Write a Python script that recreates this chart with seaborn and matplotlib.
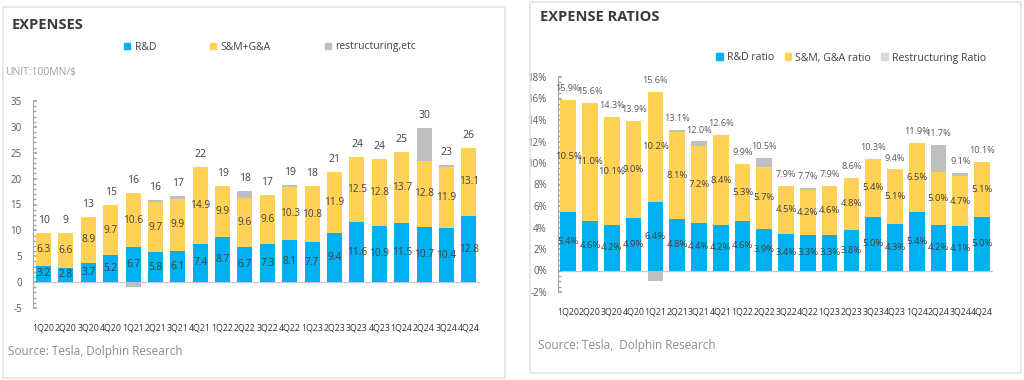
import matplotlib
matplotlib.use("Agg")
import matplotlib.pyplot as plt
import seaborn as sns
from matplotlib.patches import Rectangle, Patch
from matplotlib.ticker import MultipleLocator, FuncFormatter

sns.set_theme(style="white")
plt.rcParams['font.family'] = ['Open Sans', 'DejaVu Sans']

quarters = ["1Q20", "2Q20", "3Q20", "4Q20", "1Q21", "2Q21", "3Q21", "4Q21",
            "1Q22", "2Q22", "3Q22", "4Q22", "1Q23", "2Q23", "3Q23", "4Q23",
            "1Q24", "2Q24", "3Q24", "4Q24"]

# Expenses (100MN $)
rd = [3.2, 2.8, 3.7, 5.2, 6.7, 5.8, 6.1, 7.4, 8.7, 6.7, 7.3, 8.1, 7.7, 9.4, 11.6, 10.9, 11.5, 10.7, 10.4, 12.8]
sga = [6.3, 6.6, 8.9, 9.7, 10.6, 9.7, 9.9, 14.9, 9.9, 9.6, 9.6, 10.3, 10.8, 11.9, 12.5, 12.8, 13.7, 12.8, 11.9, 13.1]
restr = [0, 0, 0, 0, -1.0, 0.3, 0.6, 0, 0, 1.4, 0, 0.3, 0, 0, 0, 0, 0, 6.2, 0.4, 0]
totals = ["10", "9", "13", "15", "16", "16", "17", "22", "19", "18", "17", "19", "18", "21", "24", "24", "25", "30", "23", "26"]

# Expense ratios (%)
rd_ratio = [5.4, 4.6, 4.2, 4.9, 6.4, 4.8, 4.4, 4.2, 4.6, 3.9, 3.4, 3.3, 3.3, 3.8, 5.0, 4.3, 5.4, 4.2, 4.1, 5.0]
sga_ratio = [10.5, 11.0, 10.1, 9.0, 10.2, 8.1, 7.2, 8.4, 5.3, 5.7, 4.5, 4.2, 4.6, 4.8, 5.4, 5.1, 6.5, 5.0, 4.7, 5.1]
restr_ratio = [0, 0, 0, 0, -1.0, 0.2, 0.4, 0, 0, 0.9, 0, 0.2, 0, 0, 0, 0, 0, 2.5, 0.3, 0]
ratio_totals = ["15.9%", "15.6%", "14.3%", "13.9%", "15.6%", "13.1%", "12.0%", "12.6%", "9.9%", "10.5%",
                "7.9%", "7.7%", "7.9%", "8.6%", "10.3%", "9.4%", "11.9%", "11.7%", "9.1%", "10.1%"]

BLUE = "#00B0F0"
YELLOW = "#FFD256"
GRAY = "#BFBFBF"
TXT = "#404040"

W, H = 1024, 380
fig = plt.figure(figsize=(W / 100, H / 100), dpi=100)
fig.patch.set_facecolor("white")


def px_axes(x0, y0, x1, y1):
    return fig.add_axes([x0 / W, 1 - y1 / H, (x1 - x0) / W, (y1 - y0) / H])


def fx(x):
    return x / W


def fy(y):
    return 1 - y / H


# panel borders
fig.patches.append(Rectangle((fx(3), fy(378)), (505 - 3) / W, (378 - 7) / H, transform=fig.transFigure,
                             fill=False, edgecolor="#E3E3E3", lw=1.2))
fig.patches.append(Rectangle((fx(530), fy(373)), (1021 - 530) / W, (373 - 2) / H, transform=fig.transFigure,
                             fill=False, edgecolor="#E3E3E3", lw=1.2))


def stacked(ax, a, b, c, width, labfmt, fs):
    ab = [x + y for x, y in zip(a, b)]
    top = [s + max(z, 0) for s, z in zip(ab, c)]
    neg = [min(z, 0) for z in c]
    for vals, col in [(top, GRAY), (ab, YELLOW), (a, BLUE), (neg, GRAY)]:
        sns.barplot(x=quarters, y=vals, color=col, width=width, errorbar=None,
                    saturation=1, linewidth=0, ax=ax)
    for i in range(len(a)):
        ax.text(i, a[i] / 2, labfmt(a[i]), ha="center", va="center", fontsize=fs, color=TXT)
        ax.text(i, a[i] + b[i] / 2, labfmt(b[i]), ha="center", va="center", fontsize=fs, color=TXT)
    return top


def style_axes(ax, ylo, yhi, major, minor, fmt):
    ax.set_ylim(ylo, yhi)
    ax.set_xlim(-0.47, len(quarters) - 0.5)
    ax.set_xlabel("")
    ax.set_ylabel("")
    for s in ["top", "right", "bottom"]:
        ax.spines[s].set_visible(False)
    ax.spines["left"].set_color("#A6A6A6")
    ax.spines["left"].set_linewidth(0.8)
    ax.axhline(0, color="#C8C8C8", lw=0.9, zorder=0.5)
    ax.yaxis.set_major_locator(MultipleLocator(major))
    ax.yaxis.set_minor_locator(MultipleLocator(minor))
    ax.yaxis.set_major_formatter(FuncFormatter(fmt))
    ax.tick_params(axis="y", which="major", left=True, direction="in", length=3, color="#A6A6A6",
                   labelsize=7, labelcolor="#595959", pad=8)
    ax.tick_params(axis="y", which="minor", left=True, direction="in", length=2, color="#A6A6A6")
    ax.tick_params(axis="x", bottom=False, labelsize=6.4, labelcolor="#333333", pad=5)
    ax.patch.set_alpha(0)


# ---------- Left: EXPENSES ----------
ax1 = px_axes(33, 101, 480, 308)
top1 = stacked(ax1, rd, sga, restr, 0.67, lambda v: f"{v:.1f}", 7.3)
for i, t in enumerate(totals):
    ax1.annotate(t, (i, top1[i]), xytext=(0, 9), textcoords="offset points",
                 ha="center", va="center", fontsize=7.5, color=TXT)
style_axes(ax1, -5, 35, 5, 1, lambda v, p: f"{v:.0f}")

fig.text(fx(12), fy(25), "EXPENSES", fontsize=10.5, fontweight="bold", color="#3A3A3A", va="center")
fig.text(fx(5), fy(72), "UNIT:100MN/$", fontsize=7.5, color="#A0A0A0", va="center")
fig.text(fx(8), fy(352), "Source: Tesla, Dolphin Research", fontsize=8.5, color="#8C8C8C", va="center")

h1 = [Patch(color=BLUE, label="R&D"), Patch(color=YELLOW, label="S&M+G&A"),
      Patch(color=GRAY, label="restructuring,etc")]
fig.legend(handles=h1, loc="center left", bbox_to_anchor=(fx(120), fy(47)), ncol=3, frameon=False,
           fontsize=7.5, handlelength=0.6, handleheight=0.6, handletextpad=0.4, columnspacing=5.2,
           labelcolor="#404040", borderaxespad=0)

# ---------- Right: EXPENSE RATIOS ----------
ax2 = px_axes(558, 77, 993, 292)
top2 = stacked(ax2, rd_ratio, sga_ratio, restr_ratio, 0.72, lambda v: f"{v:.1f}%", 6.8)
for i, t in enumerate(ratio_totals):
    ax2.annotate(t, (i, top2[i]), xytext=(0, 8), textcoords="offset points",
                 ha="center", va="center", fontsize=6.6, color="#595959")
style_axes(ax2, -2, 18, 2, 0.5, lambda v, p: f"{v:.0f}%")

fig.text(fx(540), fy(17), "EXPENSE RATIOS", fontsize=10.5, fontweight="bold", color="#3A3A3A", va="center")
fig.text(fx(538), fy(346), "Source: Tesla,  Dolphin Research", fontsize=8.5, color="#8C8C8C", va="center")

h2 = [Patch(color=BLUE, label="R&D ratio"), Patch(color=YELLOW, label="S&M, G&A ratio"),
      Patch(color="#D9D9D9", label="Restructuring Ratio")]
fig.legend(handles=h2, loc="center left", bbox_to_anchor=(fx(712), fy(58)), ncol=3, frameon=False,
           fontsize=7.6, handlelength=0.6, handleheight=0.6, handletextpad=0.4, columnspacing=1.0,
           labelcolor="#404040", borderaxespad=0)

fig.savefig("out.png", dpi=100, facecolor="white")
